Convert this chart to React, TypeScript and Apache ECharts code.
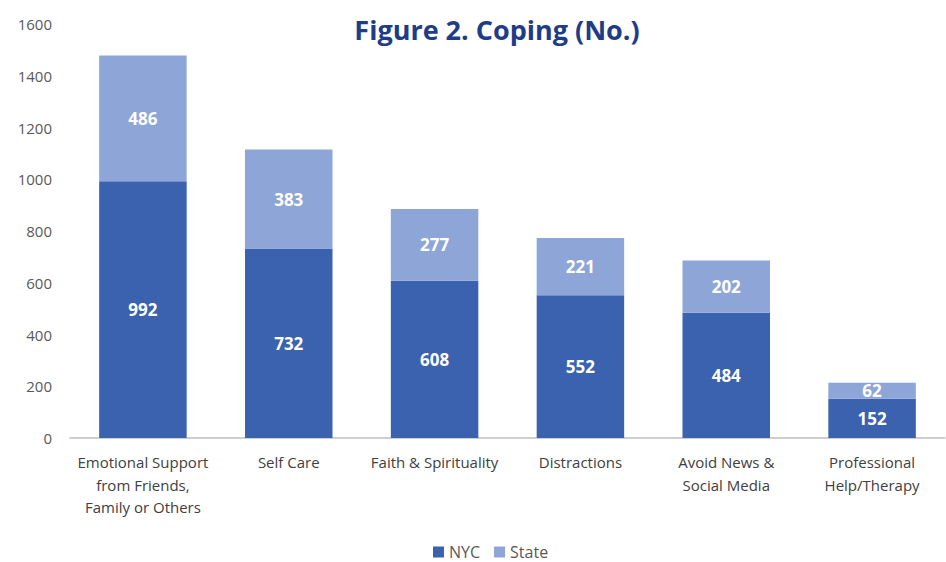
import React, { useEffect, useRef } from "react";
import * as echarts from "echarts";

const categories = [
  "Emotional Support\nfrom Friends,\nFamily or Others",
  "Self Care",
  "Faith & Spirituality",
  "Distractions",
  "Avoid News &\nSocial Media",
  "Professional\nHelp/Therapy",
];
const nycValues = [992, 732, 608, 552, 484, 152];
const stateValues = [486, 383, 277, 221, 202, 62];

export default function App() {
  const ref = useRef<HTMLDivElement>(null);
  useEffect(() => {
    if (!ref.current) return;
    const chart = echarts.init(ref.current, null, { renderer: "svg" });
    const font = "'Open Sans', 'Noto Sans', sans-serif";
    chart.setOption({
      animation: false,
      backgroundColor: "#ffffff",
      title: {
        text: "Figure 2. Coping (No.)",
        left: 492,
        textAlign: "center",
        top: 11,
        textStyle: { color: "#1F3C88", fontSize: 27, fontWeight: "bold", fontFamily: font },
      },
      legend: {
        bottom: -3,
        left: 428,
        itemWidth: 11,
        itemHeight: 11,
        itemGap: 14,
        icon: "rect",
        textStyle: { color: "#595959", fontSize: 16, fontFamily: font },
        data: ["NYC", "State"],
      },
      grid: { left: 70, right: 1, top: 24, bottom: 124, containLabel: false },
      xAxis: {
        type: "category",
        data: categories,
        axisLine: { lineStyle: { color: "#BFBFBF", width: 1.5 } },
        axisTick: { show: false },
        axisLabel: {
          color: "#404040",
          fontSize: 15,
          fontFamily: font,
          lineHeight: 22.5,
          margin: 13,
          interval: 0,
        },
      },
      yAxis: {
        type: "value",
        min: 0,
        max: 1600,
        interval: 200,
        splitLine: { show: false },
        axisLine: { show: false },
        axisTick: { show: false },
        axisLabel: {
          color: "#595959",
          fontSize: 15,
          fontFamily: font,
          margin: 18,
          formatter: (v: number) => String(v),
        },
      },
      series: [
        {
          name: "NYC",
          type: "bar",
          stack: "total",
          data: nycValues,
          barWidth: "60%",
          itemStyle: { color: "#3A62AE" },
          label: {
            show: true,
            position: "inside",
            color: "#ffffff",
            fontSize: 17,
            fontWeight: "bold",
            fontFamily: font,
          },
        },
        {
          name: "State",
          type: "bar",
          stack: "total",
          data: stateValues,
          barWidth: "60%",
          itemStyle: { color: "#8EA5D8" },
          label: {
            show: true,
            position: "inside",
            color: "#ffffff",
            fontSize: 17,
            fontWeight: "bold",
            fontFamily: font,
          },
        },
      ],
    });
    return () => chart.dispose();
  }, []);
  return (
    <div
      ref={ref}
      style={{ position: "fixed", left: 0, top: 0, width: 946, height: 562 }}
    />
  );
}
